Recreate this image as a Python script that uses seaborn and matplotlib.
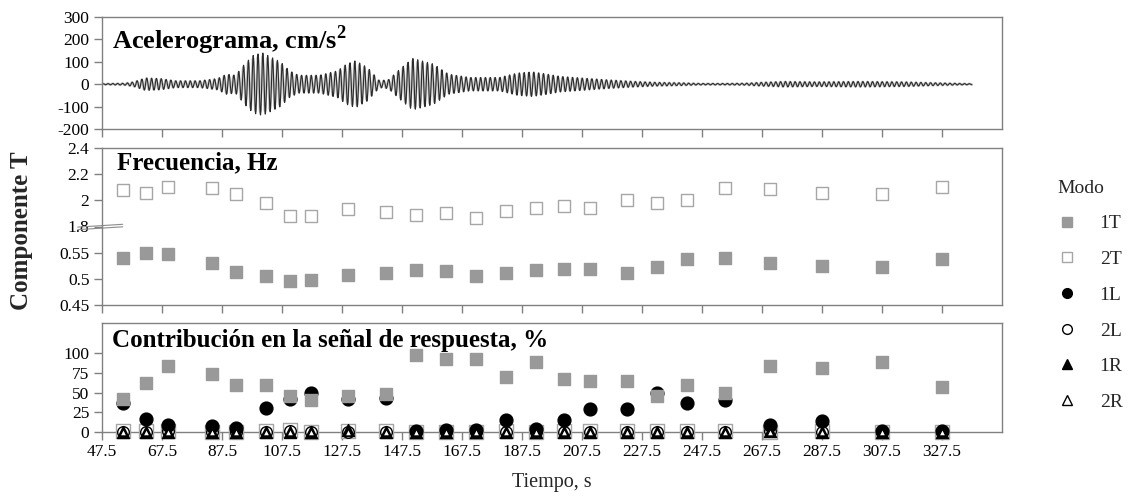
#!/usr/bin/env python3
"""Accelerogram, modal frequencies and modal contribution vs time (T component)."""

import numpy as np
import pandas as pd

import matplotlib

matplotlib.use("Agg")
import matplotlib.pyplot as plt
from matplotlib.lines import Line2D
import seaborn as sns


# --- accelerogram envelope (s, cm/s2) ---
ACC_T = [47.5, 55, 58, 62, 67, 72, 80, 86, 89, 92,
         95, 98, 101, 104, 107, 110, 113, 120, 126, 129,
         132, 136, 140, 143, 147, 151, 154, 158, 163, 170,
         180, 186, 191, 196, 200, 205, 215, 225, 232, 240,
         247, 255, 262, 267, 275, 285, 300, 315, 325, 337.5]
ACC_AMP = [2, 4, 10, 28, 25, 15, 15, 25, 45, 40,
           90, 130, 140, 120, 100, 60, 40, 40, 60, 90,
           105, 75, 15, 20, 70, 115, 105, 90, 45, 30,
           30, 50, 55, 45, 35, 30, 20, 12, 8, 6,
           3, 3, 4, 8, 12, 10, 12, 10, 6, 2]
ACC_FREQ = 0.62

# --- window centres (s) ---
TIME = [54.5, 62, 69.5, 84, 92, 102, 110, 117, 129.5, 142,
        152, 162, 172, 182, 192, 201.5, 210, 222.5, 232.5, 242.5,
        255, 270, 287.5, 307.5, 327.5]

# --- identified frequencies (Hz) ---
FREQ_1T = [0.539, 0.549, 0.547, 0.531, 0.514, 0.505, 0.495, 0.498, 0.507, 0.511,
           0.517, 0.515, 0.505, 0.512, 0.517, 0.519, 0.518, 0.511, 0.522, 0.537,
           0.539, 0.530, 0.525, 0.522, 0.537]
FREQ_2T = [2.078, 2.058, 2.103, 2.096, 2.048, 1.977, 1.879, 1.879, 1.931, 1.912,
           1.887, 1.900, 1.862, 1.918, 1.938, 1.958, 1.938, 2.002, 1.977, 2.002,
           2.091, 2.084, 2.058, 2.048, 2.103]

# --- contribution to response signal (%) ---
CONTRIB_1T = [42, 62, 84, 74, 60, 59, 46, 41, 46, 48,
              97, 92, 93, 70, 89, 67, 65, 65, 46, 59,
              50, 84, 81, 89, 57]
CONTRIB_2T = [1, 1, 1, 0, 0, 1, 2, 0, 1, 1,
              0, 0, 0, 1, 0, 1, 1, 1, 1, 1,
              1, 0, 1, 0, 0]
CONTRIB_1L = [37, 17, 9, 7, 5, 30, 42, 50, 42, 43,
              1, 3, 2, 15, 4, 15, 29, 29, 49, 37,
              40, 9, 14, 1, 1]
CONTRIB_2L = [0, 0, 1, 0, 0, 0, 1, 0, 0, 0,
              0, 0, 0, 0, 0, 0, 0, 0, 0, 0,
              0, 1, 0, 0, 0]
CONTRIB_1R = [0, 0, 0, 0, 0, 0, 0, 0, 3, 0,
              0, 0, 0, 0, 0, 0, 0, 0, 0, 0,
              0, 1, 0, 0, 0]
CONTRIB_2R = [0, 0, 0, 0, 0, 0, 0, 0, 0, 0,
              0, 0, 0, 0, 0, 0, 0, 0, 0, 0,
              0, 0, 0, 0, 0]

MODES = ["1T", "2T", "1L", "2L", "1R", "2R"]
XTICKS = [47.5 + 20 * i for i in range(15)]
FREQ_TICK_LABELS = ["0.45", "0.5", "0.55", "1.8", "2", "2.2", "2.4"]

GRAY = "#999999"
SPINE = "#808080"
SERIF = ["Liberation Serif", "DejaVu Serif"]

# marker style per mode: (marker, face, edge)
STYLE = {
    "1T": ("s", GRAY, GRAY),
    "2T": ("s", "white", "#a6a6a6"),
    "1L": ("o", "black", "black"),
    "2L": ("o", "white", "black"),
    "1R": ("^", "black", "black"),
    "2R": ("^", "white", "black"),
}


def configure_style():
    sns.set_theme(style="white")
    plt.rcParams.update(
        {
            "font.family": SERIF,
            "font.size": 12,
            "mathtext.fontset": "custom",
            "mathtext.rm": "Liberation Serif",
            "mathtext.bf": "Liberation Serif:bold",
            "axes.edgecolor": SPINE,
            "axes.linewidth": 1.0,
            "xtick.color": SPINE,
            "ytick.color": SPINE,
            "xtick.labelcolor": "black",
            "ytick.labelcolor": "black",
            "xtick.major.size": 6,
            "ytick.major.size": 6,
            "xtick.major.width": 1.0,
            "ytick.major.width": 1.0,
            "xtick.direction": "out",
            "ytick.direction": "out",
            "xtick.bottom": True,
            "ytick.left": True,
        }
    )


def freq_to_axis(v):
    v = np.asarray(v, dtype=float)
    return np.where(v < 1.0, (v - 0.45) / 0.05, 3 + (v - 1.8) / 0.2)


def style_x(ax, labels=False):
    ax.set_xlim(47.5, 347.5)
    ax.set_xticks(XTICKS)
    if labels:
        ax.set_xticklabels([f"{t:.1f}" for t in XTICKS], fontsize=12.5)
    else:
        ax.set_xticklabels([])
    ax.set_xlabel("")
    ax.set_ylabel("")


def panel_title(ax, text, x, y, size=18):
    ax.text(x, y, text, transform=ax.transAxes, ha="left", va="center",
            fontsize=size, fontweight="bold", family=SERIF, color="black")


def plot_accelerogram(ax):
    t = np.arange(ACC_T[0], ACC_T[-1], 0.04)
    env = np.interp(t, ACC_T, ACC_AMP)
    acc = pd.DataFrame({"t": t, "a": env * np.sin(2 * np.pi * ACC_FREQ * (t - ACC_T[0]))})
    acc["a2"] = env * 0.9 * np.sin(2 * np.pi * ACC_FREQ * (t - ACC_T[0]) + 0.35)
    sns.lineplot(data=acc, x="t", y="a2", ax=ax, color="#c8c8c8", linewidth=1.8, estimator=None)
    sns.lineplot(data=acc, x="t", y="a", ax=ax, color="#2b2b2b", linewidth=0.8, estimator=None)
    ax.set_ylim(-200, 300)
    ax.set_yticks([-200, -100, 0, 100, 200, 300])
    ax.set_yticklabels(["-200", "-100", "0", "100", "200", "300"], fontsize=12.5)
    style_x(ax)
    panel_title(ax, "Acelerograma, cm/s$^{\\mathbf{2}}$", 0.011, 0.79, size=19)


def scatter_mode(ax, x, y, mode, size=70, zorder=3):
    marker, face, edge = STYLE[mode]
    sns.scatterplot(x=x, y=y, ax=ax, marker=marker, color=face, edgecolor=edge,
                    linewidth=1.0, s=size, clip_on=False, zorder=zorder, legend=False)


def plot_frequencies(ax):
    df = pd.DataFrame({"t": TIME, "1T": FREQ_1T, "2T": FREQ_2T})
    scatter_mode(ax, df["t"], freq_to_axis(df["2T"]), "2T", size=75)
    scatter_mode(ax, df["t"], freq_to_axis(df["1T"]), "1T", size=85)
    ax.set_ylim(0, 6)
    ax.set_yticks(range(7))
    ax.set_yticklabels(FREQ_TICK_LABELS, fontsize=12.5)
    style_x(ax)
    panel_title(ax, "Frecuencia, Hz", 0.017, 0.905)
    # axis break mark at 1.8
    for dy in (-0.008, 0.008):
        ax.add_line(Line2D([-0.027, 0.023], [0.5 - 0.012 + dy, 0.5 + 0.006 + dy],
                           transform=ax.transAxes, color="#8c8c8c", linewidth=0.8,
                           clip_on=False))


def plot_contribution(ax):
    df = pd.DataFrame({"t": TIME, "1T": CONTRIB_1T, "2T": CONTRIB_2T, "1L": CONTRIB_1L,
                       "2L": CONTRIB_2L, "1R": CONTRIB_1R, "2R": CONTRIB_2R})
    scatter_mode(ax, df["t"], df["2T"], "2T", size=90, zorder=3)
    scatter_mode(ax, df["t"], df["2L"], "2L", size=70, zorder=4)
    scatter_mode(ax, df["t"], df["1L"], "1L", size=85, zorder=5)
    scatter_mode(ax, df["t"], df["1R"], "1R", size=75, zorder=6)
    scatter_mode(ax, df["t"], df["2R"], "2R", size=25, zorder=7)
    scatter_mode(ax, df["t"], df["1T"], "1T", size=85, zorder=8)
    ax.set_ylim(0, 138)
    ax.set_yticks([0, 25, 50, 75, 100])
    ax.set_yticklabels(["0", "25", "50", "75", "100"], fontsize=12.5)
    style_x(ax, labels=True)
    panel_title(ax, "Contribución en la señal de respuesta, %", 0.011, 0.838)


def add_legend(fig):
    handles = []
    for mode in MODES:
        marker, face, edge = STYLE[mode]
        handles.append(Line2D([], [], linestyle="none", marker=marker, markersize=7,
                              markerfacecolor=face, markeredgecolor=edge, markeredgewidth=1.0))
    leg = fig.legend(handles, MODES, title="Modo", loc="upper left",
                     bbox_to_anchor=(0.917, 0.66), frameon=False,
                     prop={"family": SERIF, "size": 14}, title_fontproperties={"family": SERIF, "size": 14},
                     handletextpad=1.2, labelspacing=0.93, handlelength=1.0, borderpad=0.0)
    leg._legend_box.align = "left"


def main():
    configure_style()
    fig = plt.figure(figsize=(11.42, 5.0), dpi=100)
    left, width = 102 / 1142, 900 / 1142
    ax_acc = fig.add_axes([left, 1 - 129 / 500, width, 112 / 500])
    ax_freq = fig.add_axes([left, 1 - 305 / 500, width, 157 / 500])
    ax_con = fig.add_axes([left, 1 - 432 / 500, width, 109 / 500])

    plot_accelerogram(ax_acc)
    plot_frequencies(ax_freq)
    plot_contribution(ax_con)

    for ax in (ax_acc, ax_freq, ax_con):
        for side in ("top", "right", "left", "bottom"):
            ax.spines[side].set_visible(True)
            ax.spines[side].set_color(SPINE)
        ax.tick_params(axis="both", which="major", pad=3)

    fig.text(22 / 1142, 1 - 231 / 500, "Componente T", rotation=90, ha="center", va="center",
             fontsize=18, fontweight="bold", family=SERIF)
    fig.text(552 / 1142, 1 - 483 / 500, "Tiempo, s", ha="center", va="center",
             fontsize=14.5, family=SERIF)
    add_legend(fig)

    fig.savefig("out.png", dpi=100, facecolor="white")
    plt.close(fig)


if __name__ == "__main__":
    main()
